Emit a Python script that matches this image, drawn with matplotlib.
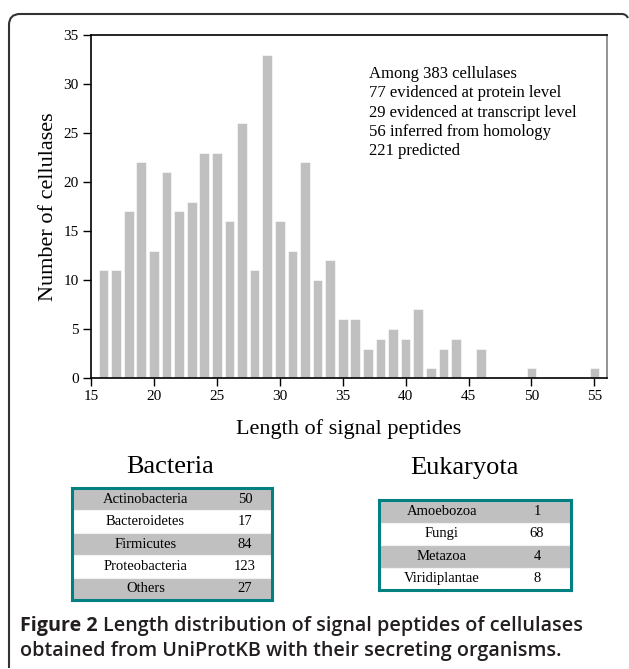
#!/usr/bin/env python3
"""Length distribution of signal peptides of cellulases, with organism tables."""
import matplotlib.pyplot as plt
from matplotlib.patches import PathPatch
from matplotlib.path import Path

W, H = 629, 669

lengths = list(range(16, 56))
counts = [11, 11, 17, 22, 13, 21, 17, 18, 23, 23, 16, 26, 11, 33, 16, 13, 22,
          10, 12, 6, 6, 3, 4, 5, 4, 7, 1, 3, 4, 0, 3, 0, 0, 0, 1, 0, 0, 0, 0, 1]

notes = ["Among 383 cellulases",
         "77 evidenced at protein level",
         "29 evidenced at transcript level",
         "56 inferred from homology",
         "221 predicted"]

bact_names = ["Actinobacteria", "Bacteroidetes", "Firmicutes", "Proteobacteria", "Others"]
bact_counts = [50, 17, 84, 123, 27]
euk_names = ["Amoebozoa", "Fungi", "Metazoa", "Viridiplantae"]
euk_counts = [1, 68, 4, 8]

xticks = list(range(15, 56, 5))
yticks = list(range(0, 36, 5))

SERIF = "Liberation Serif"
TEAL = "#008080"
GREY = "#c0c0c0"


def px_box(x0, y0, x1, y1):
    # pixel box (top-left origin) -> figure fraction rect
    return [x0 / W, 1 - y1 / H, (x1 - x0) / W, (y1 - y0) / H]


def org_table(fig, box, title, title_xy, names, vals, name_x, val_x):
    tax = fig.add_axes(px_box(*box))
    n = len(names)
    rows = list(range(n))
    colors = [GREY if i % 2 == 0 else "white" for i in rows]
    tax.barh(rows, [1] * n, height=1.0, left=0, color=colors,
             edgecolor="#f2f2f2", linewidth=0.8)
    tax.set_xlim(0, 1)
    tax.set_ylim(n - 0.5, -0.5)
    tax.set_xticks([])
    tax.set_yticks([])
    for s in tax.spines.values():
        s.set_color(TEAL)
        s.set_linewidth(2.2)
    for i, (nm, v) in enumerate(zip(names, vals)):
        tax.text(name_x, i, nm, ha="center", va="center", fontsize=10.5, family=SERIF)
        tax.text(val_x, i, str(v), ha="center", va="center", fontsize=10.5, family=SERIF)
    fig.text(title_xy[0] / W, 1 - title_xy[1] / H, title, ha="center", va="center",
             fontsize=19, family=SERIF)


def main():
    fig = plt.figure(figsize=(W / 100, H / 100), dpi=100)

    ax = fig.add_axes(px_box(91, 35, 607, 378))
    ax.bar(lengths, counts, width=0.77, color=GREY, edgecolor="white", linewidth=0.4)
    ax.set_xlim(15, 56)
    ax.set_ylim(0, 35)
    ax.set_xticks(xticks)
    ax.set_yticks(yticks)
    ax.tick_params(direction="out", length=6, width=1, labelsize=11, pad=3)
    for lab in ax.get_xticklabels() + ax.get_yticklabels():
        lab.set_family(SERIF)
    ax.spines["right"].set_color("#808080")
    ax.spines["right"].set_linewidth(1.2)
    for s in ("left", "top", "bottom"):
        ax.spines[s].set_linewidth(1.2)
    ax.set_xlabel("Length of signal peptides", fontsize=16, family=SERIF, labelpad=11)
    ax.set_ylabel("Number of cellulases", fontsize=16, family=SERIF, labelpad=4)

    ax.text(0.539, 0.91, "\n".join(notes), transform=ax.transAxes, ha="left", va="top",
            fontsize=12, family=SERIF, linespacing=1.28)

    org_table(fig, (72, 488, 272, 600), "Bacteria", (170, 467),
              bact_names, bact_counts, (145.5 - 72) / 200, (245 - 72) / 200)
    org_table(fig, (379, 500, 571, 590), "Eukaryota", (464, 468),
              euk_names, euk_counts, (442 - 379) / 192, (537 - 379) / 192)

    # frame around the figure: left + top with rounded corner
    r = 11
    verts = [(9, 668), (9, 14 + r), (9, 14), (9 + r, 14), (622, 14), (626, 14), (628, 18)]
    codes = [Path.MOVETO, Path.LINETO, Path.CURVE3, Path.CURVE3, Path.LINETO,
             Path.CURVE3, Path.CURVE3]
    verts = [(x / W, 1 - y / H) for x, y in verts]
    fig.add_artist(PathPatch(Path(verts, codes), fill=False, edgecolor="#333333",
                             linewidth=1.5, transform=fig.transFigure))

    cap_kw = dict(fontsize=14.2, family="Open Sans", color="#231f20", va="center")
    t = fig.text(20 / W, 1 - 626 / H, "Figure 2", fontweight="bold", **cap_kw)
    fig.canvas.draw()
    bb = t.get_window_extent()
    fig.text(bb.x1 / W + 5 / W, 1 - 626 / H,
             "Length distribution of signal peptides of cellulases",
             fontweight="semibold", **cap_kw)
    fig.text(20 / W, 1 - 651 / H,
             "obtained from UniProtKB with their secreting organisms.",
             fontweight="semibold", **cap_kw)

    fig.savefig("out.png", dpi=100)


if __name__ == "__main__":
    main()
